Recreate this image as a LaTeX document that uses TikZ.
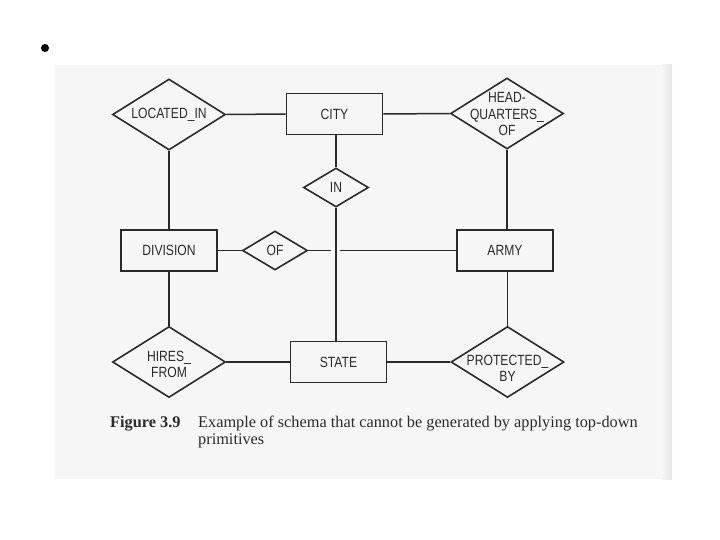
\documentclass[tikz,border=0pt]{standalone}
\usepackage{fontspec}
\setmainfont{Liberation Serif}
\newfontfamily\lblfont[FakeStretch=0.82]{Liberation Sans}
\usetikzlibrary{shapes.geometric}
\definecolor{paper}{HTML}{F6F6F6}
\definecolor{ink}{HTML}{2A2A2A}
\begin{document}
\begin{tikzpicture}[x=1pt,y=-1pt,
  ent/.style={draw=ink,line width=1.6pt,rectangle,minimum width=96pt,minimum height=41pt,inner sep=0pt,font=\lblfont\fontsize{14.8}{16}\selectfont,text=ink},
  rel/.style={draw=ink,line width=1.6pt,diamond,inner sep=0pt},
  bigrel/.style={rel,minimum width=113pt,minimum height=71pt,aspect=1.59},
  smallrel/.style={rel,minimum width=65pt,minimum height=39pt,aspect=1.67},
  txt/.style={font=\lblfont\fontsize{14.8}{16.3}\selectfont,align=center,text=ink,inner sep=0pt},
  conn/.style={draw=ink,line width=1.5pt},
  captext/.style={anchor=base west,inner sep=0pt,text=ink}]
\useasboundingbox (0,0) rectangle (720,540);
\fill[paper] (55,65) rectangle (672,479);
\shade[left color=paper,right color=black!10] (662,65) rectangle (672,479);
\fill[black] (45,48) circle (4);

% entities
\node[ent] (CITY) at (334.5,114) {CITY};
\node[ent] (DIV) at (169,250.5) {DIVISION};
\node[ent] (ARMY) at (505,250.5) {ARMY};
\node[ent] (STATE) at (338.5,362) {STATE};

% relationships
\node[bigrel] (LI) at (169,114.5) {};
\node[txt] (LIt) at (LI.center) {LOCATED\_IN};
\node[bigrel] (HQ) at (507,113.5) {};
\node[txt] (HQt) at ([yshift=-0.5]HQ.center) {HEAD-\\QUARTERS\_\\OF};
\node[smallrel] (IN) at (336,187.5) {};
\node[txt] (INt) at (IN.center) {IN};
\node[smallrel] (OF) at (275,250.5) {};
\node[txt] (OFt) at (OF.center) {OF};
\node[bigrel] (HF) at (169,362) {};
\node[txt] (HFt) at ([yshift=-2.5]HF.center) {HIRES\_\\FROM};
\node[bigrel] (PB) at (507.5,362) {};
\node[txt] (PBt) at ([yshift=-6.5]PB.center) {PROTECTED\_\\BY};

% connectors
\draw[conn] (LI.east) -- (CITY.west);
\draw[conn] (CITY.east) -- (HQ.west);
\draw[conn] (IN.north) -- (IN.north |- CITY.south);
\draw[conn] (IN.south) -- (IN.south |- STATE.north);
\draw[conn] (LI.south) -- (DIV.north);
\draw[conn] (DIV.south) -- (HF.north);
\draw[conn] (DIV.east) -- (OF.west);
\coordinate (X) at (IN.south |- OF.east);
\draw[conn] (OF.east) -- ([xshift=-5]X);
\draw[conn] ([xshift=4]X) -- (ARMY.west);
\draw[conn] (HQ.south) -- (HQ.south |- ARMY.north);
\draw[conn] (PB.north |- ARMY.south) -- (PB.north);
\draw[conn] (HF.east) -- (STATE.west);
\draw[conn] (STATE.east) -- (PB.west);

% caption
\node[captext,font=\fontsize{16.3}{17}\selectfont\bfseries] (fig) at (110,427) {Figure 3.9};
\node[captext,font=\fontsize{16.3}{17}\selectfont] (c1) at (198,427) {Example of schema that cannot be generated by applying top-down};
\node[captext,font=\fontsize{16.3}{17}\selectfont] (c2) at (198,444) {primitives};
\end{tikzpicture}
\end{document}
